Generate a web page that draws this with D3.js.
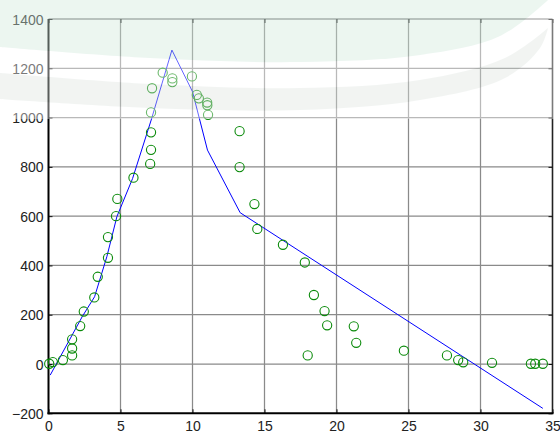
<!DOCTYPE html>
<html>
<head>
<meta charset="utf-8">
<script src="https://cdn.jsdelivr.net/npm/d3@7"></script>
<style>
  html, body { margin: 0; padding: 0; background: #fff; overflow: hidden; }
  svg text { font-family: "Liberation Sans", Arial, sans-serif; }
</style>
</head>
<body>
<svg id="chart" width="560" height="433"></svg>
<script>
// Observed values (circles)
const obsX = [0.05, 0.3, 1.0, 1.64, 1.64, 1.64, 2.2, 2.45, 3.18, 3.42, 4.13, 4.13,
              4.69, 4.78, 5.9, 7.06, 7.12, 7.12, 7.12, 7.19, 7.93, 8.6, 8.6, 9.96,
              10.3, 10.44, 11.02, 11.03, 11.08, 13.27, 13.27, 14.3, 14.5, 16.28, 17.8,
              18.0, 18.43, 19.17, 19.35, 21.2, 21.37, 24.68, 27.67, 28.45, 28.8, 30.8,
              33.5, 33.8, 34.33];
const obsY = [1, 8, 16, 35, 63, 100, 154, 213, 270, 354, 431, 515,
              600, 670, 756, 812, 869, 940, 1021, 1119, 1182, 1144, 1159, 1167,
              1092, 1078, 1061, 1050, 1011, 945, 799, 649, 548, 484, 412,
              35, 280, 215, 157, 153, 86, 54, 35, 16, 7, 5,
              1, 1, 1];

// Simulated curve (line)
const fitX = [0.12, 2.34, 3.2, 4.05, 4.75, 5.84, 7.13, 8.57, 10.0, 11.04, 13.31, 34.33];
const fitY = [-45, 192, 273, 435, 598, 753, 990, 1274, 1105, 868, 614, -180];

const xTicks = [0, 5, 10, 15, 20, 25, 30, 35];
const yTicks = [-200, 0, 200, 400, 600, 800, 1000, 1200, 1400];

const svg = d3.select("#chart");
const W = 560, H = 433;
const plot = { left: 48.5, right: 552.5, top: 19, bottom: 413.3 };

const x = d3.scaleLinear().domain([0, 35]).range([plot.left, plot.right]);
const y = d3.scaleLinear().domain([-200, 1400]).range([plot.bottom, plot.top]);

svg.append("rect").attr("width", W).attr("height", H).attr("fill", "#fff");

// grid
const grid = svg.append("g").attr("stroke", "#8a8a8a").attr("stroke-width", 1.25);
grid.selectAll("line.gx").data(xTicks.slice(1, -1)).join("line")
  .attr("x1", d => x(d)).attr("x2", d => x(d))
  .attr("y1", plot.top).attr("y2", plot.bottom);
grid.selectAll("line.gy").data(yTicks.slice(1, -1)).join("line")
  .attr("x1", plot.left).attr("x2", plot.right)
  .attr("y1", d => y(d)).attr("y2", d => y(d));

// frame
svg.append("line").attr("x1", plot.left).attr("x2", plot.right)
  .attr("y1", plot.top).attr("y2", plot.top).attr("stroke", "#555").attr("stroke-width", 1.2);
svg.append("line").attr("x1", plot.right).attr("x2", plot.right)
  .attr("y1", plot.top).attr("y2", plot.bottom).attr("stroke", "#222").attr("stroke-width", 1.6);

// axes with inward ticks
const fontSize = 14;
const ax = svg.append("g").attr("transform", `translate(0,${plot.bottom})`)
  .call(d3.axisBottom(x).tickValues(xTicks).tickSize(-4).tickPadding(8).tickFormat(d3.format("d")));
const ay = svg.append("g").attr("transform", `translate(${plot.left},0)`)
  .call(d3.axisLeft(y).tickValues(yTicks).tickSize(-4).tickPadding(5).tickFormat(d3.format("d")));
const axTop = svg.append("g").attr("transform", `translate(0,${plot.top})`)
  .call(d3.axisTop(x).tickValues(xTicks).tickSize(-4).tickFormat(""));
const ayRight = svg.append("g").attr("transform", `translate(${plot.right},0)`)
  .call(d3.axisRight(y).tickValues(yTicks).tickSize(-4).tickFormat(""));
[ax, ay, axTop, ayRight].forEach(g => {
  g.select(".domain").remove();
  g.selectAll(".tick line").attr("stroke", "#111").attr("stroke-width", 1);
  g.selectAll("text").attr("font-size", fontSize).attr("fill", "#222")
    .attr("font-family", "'Liberation Sans', Arial, sans-serif");
});
ay.selectAll("text").attr("dy", "0.36em");

// left and bottom axis lines
svg.append("line").attr("x1", plot.left).attr("x2", plot.left)
  .attr("y1", plot.top).attr("y2", plot.bottom + 1).attr("stroke", "#000").attr("stroke-width", 2);
svg.append("line").attr("x1", plot.left - 1).attr("x2", plot.right + 1)
  .attr("y1", plot.bottom).attr("y2", plot.bottom).attr("stroke", "#000").attr("stroke-width", 2);

// simulated line
const line = d3.line().x((d, i) => x(fitX[i])).y((d, i) => y(fitY[i]));
svg.append("path").datum(fitX).attr("d", line)
  .attr("fill", "none").attr("stroke", "#0000ff").attr("stroke-width", 1);

// observed circles
svg.append("g").selectAll("circle").data(obsX).join("circle")
  .attr("cx", d => x(d)).attr("cy", (d, i) => y(obsY[i]))
  .attr("r", 4.6).attr("fill", "none").attr("stroke", "#0a8a0a").attr("stroke-width", 1.1);

// faint emblem laid over the upper part of the page
const emblem = svg.append("g").attr("opacity", 0.4);
emblem.append("rect").attr("x", 0).attr("y", 0).attr("width", W).attr("height", 119).attr("fill", "#fff");
const curve = d3.line().curve(d3.curveCatmullRom);
const topEdge = [[0, 47], [150, 58], [300, 62], [420, 55], [500, 36], [548, 0]];
emblem.append("path")
  .attr("d", "M0,0 " + curve(topEdge).replace(/^M/, "L") + " Z")
  .attr("fill", "#d0e9dc");
const bandTop = [[0, 73], [150, 84], [300, 88], [420, 80], [505, 58], [548, 28]];
const bandBot = [[548, 28], [540, 48], [505, 78], [420, 100], [300, 110], [150, 108], [0, 99]];
emblem.append("path")
  .attr("d", curve(bandTop) + curve(bandBot).replace(/^M/, "L") + "Z")
  .attr("fill", "#dfe6e1");
</script>
</body>
</html>
